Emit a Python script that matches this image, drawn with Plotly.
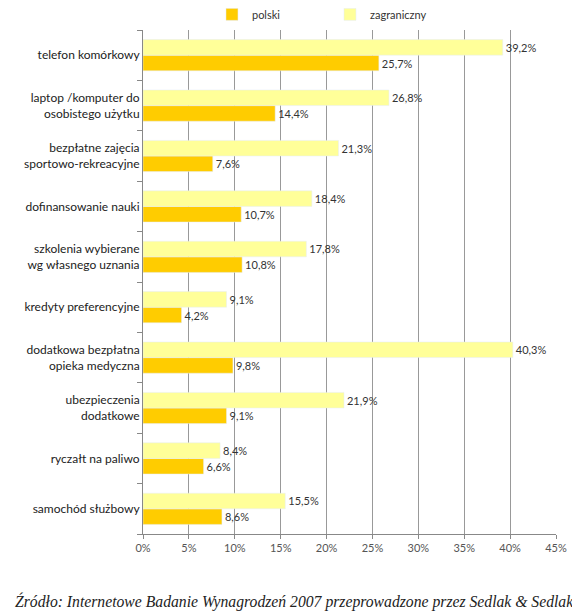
import plotly.graph_objects as go

# kategorie od góry wykresu
kategorie = [
    "telefon komórkowy",
    "laptop /komputer do<br>osobistego użytku",
    "bezpłatne zajęcia<br>sportowo-rekreacyjne",
    "dofinansowanie nauki",
    "szkolenia wybierane<br>wg własnego uznania",
    "kredyty preferencyjne",
    "dodatkowa bezpłatna<br>opieka medyczna",
    "ubezpieczenia<br>dodatkowe",
    "ryczałt na paliwo",
    "samochód służbowy",
]
polski = [25.7, 14.4, 7.6, 10.7, 10.8, 4.2, 9.8, 9.1, 6.6, 8.6]
zagraniczny = [39.2, 26.8, 21.3, 18.4, 17.8, 9.1, 40.3, 21.9, 8.4, 15.5]
x_ticks = [0, 5, 10, 15, 20, 25, 30, 35, 40, 45]


def etykieta(v):
    return f"{v:.1f}".replace(".", ",") + "%"


fig = go.Figure()
fig.add_trace(go.Bar(
    y=kategorie, x=polski, name="polski", orientation="h",
    marker=dict(color="#FFCC00"),
    text=[etykieta(v) for v in polski], textposition="outside",
    textfont=dict(family="Lato", size=11, color="#333333"),
    cliponaxis=False,
))
fig.add_trace(go.Bar(
    y=kategorie, x=zagraniczny, name="zagraniczny", orientation="h",
    marker=dict(color="#FFFF99"),
    text=[etykieta(v) for v in zagraniczny], textposition="outside",
    textfont=dict(family="Lato", size=11, color="#333333"),
    cliponaxis=False,
))

# strona ma 8px marginesu, więc figura jest o 8px mniejsza
fig.update_layout(
    width=572, height=604,
    barmode="group", bargap=0.38, bargroupgap=0,
    plot_bgcolor="white", paper_bgcolor="white",
    margin=dict(l=135, r=24, t=22, b=78, autoexpand=False),
    font=dict(family="Lato", size=12, color="#222222"),
    legend=dict(orientation="h", x=0.167, y=1.031, xanchor="left", yanchor="middle",
                font=dict(size=11, color="#333333"), itemwidth=30, entrywidth=73),
    yaxis=dict(categoryorder="array", categoryarray=kategorie[::-1],
               showline=True, linecolor="#888888", ticks="outside",
               tickson="boundaries", ticklen=5, tickcolor="#888888",
               tickfont=dict(size=12, color="#222222"), showgrid=False),
    xaxis=dict(range=[0, 45], tickvals=x_ticks,
               ticktext=[f"{t}%" for t in x_ticks],
               showgrid=True, gridcolor="#999999", gridwidth=1,
               showline=True, linecolor="#888888", ticks="outside",
               ticklen=4, tickcolor="#888888", zeroline=False,
               tickfont=dict(size=11, color="#555555")),
)

fig.add_annotation(
    xref="paper", yref="paper", x=0.366, y=-0.133,
    xanchor="center", yanchor="middle", showarrow=False,
    text="<i>Źródło: Internetowe Badanie Wynagrodzeń 2007 przeprowadzone przez Sedlak &amp; Sedlak</i>",
    font=dict(family="Liberation Serif", size=15.7, color="#222222"),
)

fig.write_html("out.html")
